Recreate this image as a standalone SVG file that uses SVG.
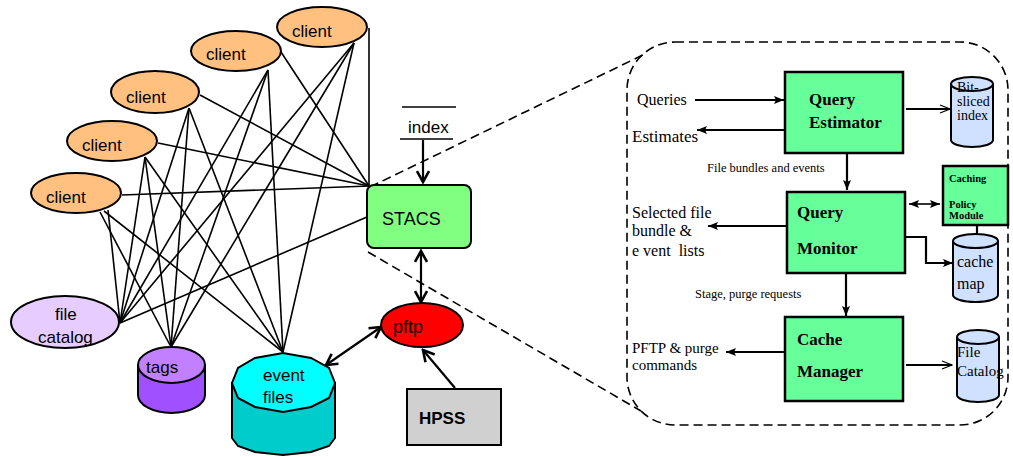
<svg xmlns="http://www.w3.org/2000/svg" width="1013" height="457" viewBox="0 0 1013 457">
  <style>
    .sans { font-family: "Liberation Sans", Arial, sans-serif; fill: #000; }
    .serif { font-family: "Liberation Serif", "Times New Roman", serif; fill: #000; }
    .bold { font-weight: bold; }
    .pre { white-space: pre; }
    .edge { stroke: #000; stroke-width: 1.6; fill: none; }
    .link { stroke: #000; stroke-width: 2.2; fill: none; }
    .outline { stroke: #000; stroke-width: 2; }
    .dash { stroke: #000; stroke-width: 1.6; fill: none; stroke-dasharray: 9 5; }
    .box { fill: #66ff99; stroke: #000; stroke-width: 2.5; }
    .store { fill: #d0e0ff; stroke: #000; stroke-width: 2; }
  </style>
  <defs>
    <marker id="vhead" markerUnits="userSpaceOnUse" markerWidth="14" markerHeight="14" viewBox="0 0 14 14" refX="12" refY="7" orient="auto-start-reverse">
      <path d="M1,1 L12,7 L1,13" fill="none" stroke="#000" stroke-width="2.6"/>
    </marker>
    <marker id="tri" markerUnits="userSpaceOnUse" markerWidth="10" markerHeight="10" viewBox="0 0 10 10" refX="10" refY="5" orient="auto-start-reverse">
      <path d="M0,1 L10,5 L0,9 L2,5 z" fill="#000"/>
    </marker>
    <marker id="thin" markerUnits="userSpaceOnUse" markerWidth="12" markerHeight="12" viewBox="0 0 12 12" refX="11" refY="6" orient="auto">
      <path d="M1,2 L11,6 L1,10" fill="none" stroke="#000" stroke-width="1.3"/>
    </marker>
  </defs>

  <!-- dashed zoom lines and the enlarged STACS outline -->
  <g id="detail-frame">
    <line class="dash" x1="370" y1="187" x2="647" y2="53"/>
    <line class="dash" x1="368" y1="252" x2="641" y2="411"/>
    <rect class="dash" x="627" y="42" width="381" height="383" rx="48"/>
  </g>

  <!-- connectors -->
  <g id="connectors">
    <!-- clients to STACS -->
    <path class="edge" d="M369,28 L369,186"/>
    <line class="edge" x1="281" y1="52" x2="369" y2="186"/>
    <line class="edge" x1="200" y1="95" x2="369" y2="186"/>
    <line class="edge" x1="158" y1="143" x2="369" y2="186"/>
    <line class="edge" x1="122" y1="195" x2="369" y2="186"/>
    <line class="edge" x1="367" y1="217" x2="120" y2="323"/>
    <!-- client 1 -->
    <line class="edge" x1="354" y1="43" x2="120" y2="323"/>
    <line class="edge" x1="354" y1="43" x2="171" y2="347"/>
    <line class="edge" x1="354" y1="43" x2="283" y2="352"/>
    <!-- client 2 -->
    <line class="edge" x1="268" y1="70" x2="120" y2="323"/>
    <line class="edge" x1="268" y1="70" x2="171" y2="347"/>
    <line class="edge" x1="268" y1="70" x2="283" y2="352"/>
    <!-- client 3 -->
    <line class="edge" x1="189" y1="108" x2="120" y2="323"/>
    <line class="edge" x1="189" y1="108" x2="171" y2="347"/>
    <line class="edge" x1="189" y1="108" x2="283" y2="352"/>
    <!-- client 4 -->
    <line class="edge" x1="145" y1="157" x2="120" y2="323"/>
    <line class="edge" x1="145" y1="157" x2="171" y2="347"/>
    <line class="edge" x1="145" y1="157" x2="283" y2="352"/>
    <!-- client 5 -->
    <line class="edge" x1="108" y1="210" x2="120" y2="323"/>
    <line class="edge" x1="100" y1="212" x2="171" y2="347"/>
    <line class="edge" x1="104" y1="211" x2="283" y2="352"/>

    <!-- storage arrows -->
    <line class="link" x1="423" y1="140" x2="423" y2="182" marker-end="url(#vhead)"/>
    <line class="link" x1="421" y1="251" x2="421" y2="302" marker-start="url(#vhead)" marker-end="url(#vhead)"/>
    <line class="link" x1="381" y1="327" x2="326" y2="365" marker-start="url(#vhead)" marker-end="url(#vhead)"/>
    <line class="link" x1="455" y1="388" x2="423" y2="350" marker-end="url(#vhead)"/>

    <!-- detail view arrows -->
    <line class="link" x1="695" y1="100" x2="784" y2="100" marker-end="url(#tri)"/>
    <line class="link" x1="785" y1="130" x2="697" y2="130" marker-end="url(#tri)"/>
    <line class="link" x1="906" y1="109" x2="950" y2="109" marker-end="url(#thin)"/>
    <line class="link" x1="847" y1="153" x2="847" y2="190" marker-end="url(#tri)"/>
    <line class="edge" x1="909" y1="204" x2="940" y2="204" marker-start="url(#tri)" marker-end="url(#tri)"/>
    <line class="link" x1="977" y1="225" x2="977" y2="246" marker-end="url(#tri)"/>
    <path class="link" d="M905,237 L926,237 L926,263 L953,263" marker-end="url(#tri)"/>
    <line class="link" x1="787" y1="226" x2="708" y2="226" marker-end="url(#tri)"/>
    <line class="link" x1="846" y1="274" x2="846" y2="316" marker-end="url(#tri)"/>
    <line class="link" x1="785" y1="352" x2="726" y2="352" marker-end="url(#tri)"/>
    <line class="link" x1="906" y1="365" x2="952" y2="365" marker-end="url(#thin)"/>
  </g>

  <!-- clients -->
  <g id="client-1">
    <ellipse class="outline" cx="322" cy="27" rx="45" ry="20" fill="#ffc080"/>
    <text class="sans" x="292" y="37" font-size="17">client</text>
  </g>
  <g id="client-2">
    <ellipse class="outline" cx="236" cy="51" rx="45" ry="20" fill="#ffc080"/>
    <text class="sans" x="206" y="60" font-size="17">client</text>
  </g>
  <g id="client-3">
    <ellipse class="outline" cx="155" cy="92" rx="44" ry="21" fill="#ffc080"/>
    <text class="sans" x="126" y="103" font-size="17">client</text>
  </g>
  <g id="client-4">
    <ellipse class="outline" cx="112" cy="141" rx="45" ry="20" fill="#ffc080"/>
    <text class="sans" x="82" y="151" font-size="17">client</text>
  </g>
  <g id="client-5">
    <ellipse class="outline" cx="76" cy="193" rx="45" ry="20" fill="#ffc080"/>
    <text class="sans" x="46" y="203" font-size="17">client</text>
  </g>

  <g id="stacs">
    <rect class="outline" x="367" y="185" width="104" height="63" rx="7" fill="#80ff80"/>
    <text class="sans" x="382" y="225" font-size="18">STACS</text>
  </g>

  <g id="index">
    <line class="edge" x1="402" y1="107" x2="456" y2="107"/>
    <line class="edge" x1="400" y1="139" x2="453" y2="139"/>
    <text class="sans" x="408" y="133" font-size="17">index</text>
  </g>

  <g id="pftp">
    <ellipse class="outline" cx="422" cy="325" rx="41" ry="22" fill="#ff0000"/>
    <text class="sans" x="393" y="333" font-size="18">pftp</text>
  </g>

  <g id="hpss">
    <rect class="outline" x="407" y="389" width="94" height="56" fill="#d0d0d0"/>
    <text class="sans bold" x="419" y="424" font-size="17">HPSS</text>
  </g>

  <g id="file-catalog">
    <ellipse class="outline" cx="65" cy="322" rx="54" ry="26" fill="#e6ccff"/>
    <text class="sans" x="55" y="320" font-size="17">file</text>
    <text class="sans" x="38" y="343" font-size="17">catalog</text>
  </g>

  <g id="tags">
    <path class="outline" d="M138,365 L138,395 A33.5,18 0 0 0 205,395 L205,365 Z" fill="#a050ff"/>
    <ellipse class="outline" cx="171.5" cy="365" rx="33.5" ry="18" fill="#c080ff"/>
    <text class="sans" x="146" y="373" font-size="17">tags</text>
  </g>

  <g id="event-files">
    <path class="outline" d="M232,383 L232,438 L238,446 L255,452 L283,455 L311,452 L329,446 L335,438 L335,383 Z" fill="#00cccc"/>
    <path class="outline" d="M232,383 L238,368 L255,358 L283,353 L311,358 L329,368 L335,383 L329,398 L311,407 L283,412 L255,407 L238,398 Z" fill="#00ffff"/>
    <text class="sans" x="263" y="381" font-size="17">event</text>
    <text class="sans" x="263" y="403" font-size="17">files</text>
  </g>

  <!-- detail view: STACS internals -->
  <g id="query-estimator">
    <rect class="box" x="785" y="72" width="118" height="81"/>
    <text class="serif bold" x="809" y="105" font-size="17">Query</text>
    <text class="serif bold" x="809" y="128" font-size="17">Estimator</text>
  </g>

  <g id="bit-sliced-index">
    <path class="store" d="M951,84 L951,140 A21,7 0 0 0 993,140 L993,84"/>
    <ellipse class="store" cx="972" cy="84" rx="21" ry="7"/>
    <text class="serif" x="957" y="92" font-size="14">Bit-</text>
    <text class="serif" x="957" y="106" font-size="14">sliced</text>
    <text class="serif" x="957" y="120" font-size="14">index</text>
  </g>

  <g id="query-monitor">
    <rect class="box" x="787" y="192" width="118" height="81"/>
    <text class="serif bold" x="797" y="218" font-size="17">Query</text>
    <text class="serif bold" x="797" y="254" font-size="17">Monitor</text>
  </g>

  <g id="caching-policy">
    <rect class="box" x="943" y="166" width="65" height="59"/>
    <text class="serif bold" x="949" y="182" font-size="10.5">Caching</text>
    <text class="serif bold" x="949" y="208" font-size="10.5">Policy</text>
    <text class="serif bold" x="949" y="219" font-size="10.5">Module</text>
  </g>

  <g id="cache-map">
    <path class="store" d="M953,241 L953,295 A22.5,7 0 0 0 998,295 L998,241"/>
    <ellipse class="store" cx="975.5" cy="241" rx="22.5" ry="7"/>
    <text class="serif" x="957" y="267" font-size="16">cache</text>
    <text class="serif" x="957" y="289" font-size="16">map</text>
  </g>

  <g id="cache-manager">
    <rect class="box" x="785" y="317" width="118" height="84"/>
    <text class="serif bold" x="797" y="345" font-size="17">Cache</text>
    <text class="serif bold" x="797" y="377" font-size="17">Manager</text>
  </g>

  <g id="hpss-file-catalog">
    <path class="store" d="M957,337 L957,395 A21,7 0 0 0 999,395 L999,337"/>
    <ellipse class="store" cx="978" cy="337" rx="21" ry="7"/>
    <text class="serif" x="957" y="357" font-size="15">File</text>
    <text class="serif" x="957" y="376" font-size="15">Catalog</text>
  </g>

  <!-- interface labels -->
  <g id="labels">
    <text class="serif" x="637" y="105" font-size="16">Queries</text>
    <text class="serif" x="632" y="142" font-size="17">Estimates</text>
    <text class="serif" x="707" y="172" font-size="12.5">File bundles and events</text>
    <text class="serif" x="632" y="218" font-size="16">Selected file</text>
    <text class="serif" x="632" y="236" font-size="16">bundle &amp;</text>
    <text class="serif pre" x="632" y="256" font-size="16" xml:space="preserve">e vent  lists</text>
    <text class="serif" x="695" y="298" font-size="12.5">Stage, purge requests</text>
    <text class="serif" x="632" y="353" font-size="15">PFTP &amp; purge</text>
    <text class="serif" x="632" y="370" font-size="15">commands</text>
  </g>
</svg>
